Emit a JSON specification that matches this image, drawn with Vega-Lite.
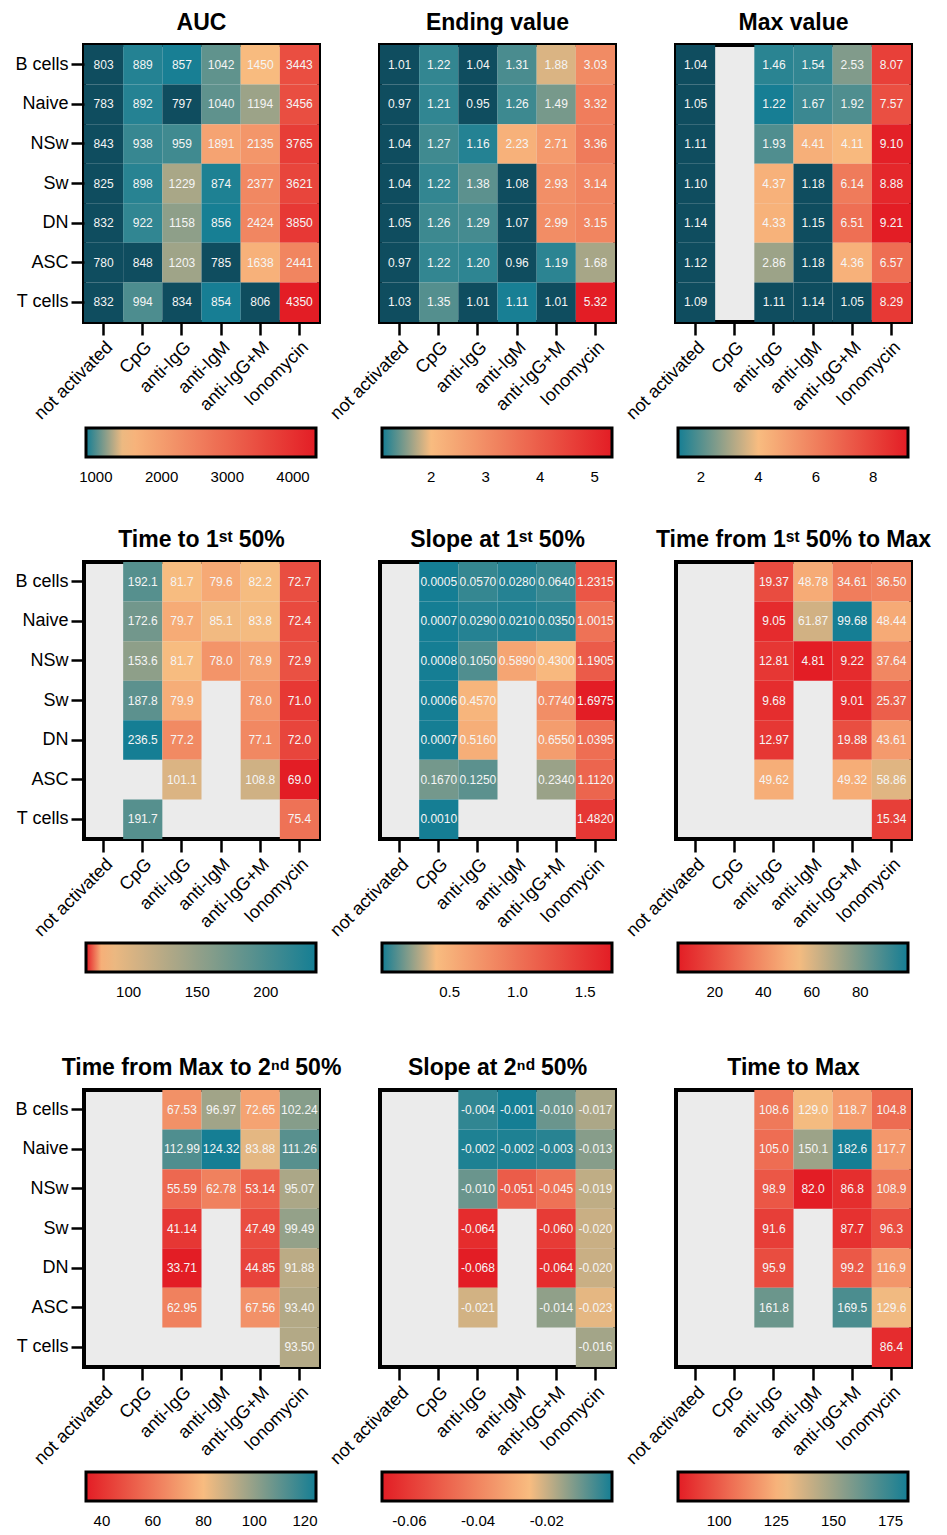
{
"$schema": "https://vega.github.io/schema/vega-lite/v6.json",
"padding": {"left": 12, "top": 10, "right": 5, "bottom": 5},
"datasets": {
"auc": [
{"r":"B cells","c":"not activated","v":803},{"r":"B cells","c":"CpG","v":889},{"r":"B cells","c":"anti-IgG","v":857},{"r":"B cells","c":"anti-IgM","v":1042},{"r":"B cells","c":"anti-IgG+M","v":1450},{"r":"B cells","c":"Ionomycin","v":3443},
{"r":"Naive","c":"not activated","v":783},{"r":"Naive","c":"CpG","v":892},{"r":"Naive","c":"anti-IgG","v":797},{"r":"Naive","c":"anti-IgM","v":1040},{"r":"Naive","c":"anti-IgG+M","v":1194},{"r":"Naive","c":"Ionomycin","v":3456},
{"r":"NSw","c":"not activated","v":843},{"r":"NSw","c":"CpG","v":938},{"r":"NSw","c":"anti-IgG","v":959},{"r":"NSw","c":"anti-IgM","v":1891},{"r":"NSw","c":"anti-IgG+M","v":2135},{"r":"NSw","c":"Ionomycin","v":3765},
{"r":"Sw","c":"not activated","v":825},{"r":"Sw","c":"CpG","v":898},{"r":"Sw","c":"anti-IgG","v":1229},{"r":"Sw","c":"anti-IgM","v":874},{"r":"Sw","c":"anti-IgG+M","v":2377},{"r":"Sw","c":"Ionomycin","v":3621},
{"r":"DN","c":"not activated","v":832},{"r":"DN","c":"CpG","v":922},{"r":"DN","c":"anti-IgG","v":1158},{"r":"DN","c":"anti-IgM","v":856},{"r":"DN","c":"anti-IgG+M","v":2424},{"r":"DN","c":"Ionomycin","v":3850},
{"r":"ASC","c":"not activated","v":780},{"r":"ASC","c":"CpG","v":848},{"r":"ASC","c":"anti-IgG","v":1203},{"r":"ASC","c":"anti-IgM","v":785},{"r":"ASC","c":"anti-IgG+M","v":1638},{"r":"ASC","c":"Ionomycin","v":2441},
{"r":"T cells","c":"not activated","v":832},{"r":"T cells","c":"CpG","v":994},{"r":"T cells","c":"anti-IgG","v":834},{"r":"T cells","c":"anti-IgM","v":854},{"r":"T cells","c":"anti-IgG+M","v":806},{"r":"T cells","c":"Ionomycin","v":4350}
],
"endv": [
{"r":"B cells","c":"not activated","v":1.01},{"r":"B cells","c":"CpG","v":1.22},{"r":"B cells","c":"anti-IgG","v":1.04},{"r":"B cells","c":"anti-IgM","v":1.31},{"r":"B cells","c":"anti-IgG+M","v":1.88},{"r":"B cells","c":"Ionomycin","v":3.03},
{"r":"Naive","c":"not activated","v":0.97},{"r":"Naive","c":"CpG","v":1.21},{"r":"Naive","c":"anti-IgG","v":0.95},{"r":"Naive","c":"anti-IgM","v":1.26},{"r":"Naive","c":"anti-IgG+M","v":1.49},{"r":"Naive","c":"Ionomycin","v":3.32},
{"r":"NSw","c":"not activated","v":1.04},{"r":"NSw","c":"CpG","v":1.27},{"r":"NSw","c":"anti-IgG","v":1.16},{"r":"NSw","c":"anti-IgM","v":2.23},{"r":"NSw","c":"anti-IgG+M","v":2.71},{"r":"NSw","c":"Ionomycin","v":3.36},
{"r":"Sw","c":"not activated","v":1.04},{"r":"Sw","c":"CpG","v":1.22},{"r":"Sw","c":"anti-IgG","v":1.38},{"r":"Sw","c":"anti-IgM","v":1.08},{"r":"Sw","c":"anti-IgG+M","v":2.93},{"r":"Sw","c":"Ionomycin","v":3.14},
{"r":"DN","c":"not activated","v":1.05},{"r":"DN","c":"CpG","v":1.26},{"r":"DN","c":"anti-IgG","v":1.29},{"r":"DN","c":"anti-IgM","v":1.07},{"r":"DN","c":"anti-IgG+M","v":2.99},{"r":"DN","c":"Ionomycin","v":3.15},
{"r":"ASC","c":"not activated","v":0.97},{"r":"ASC","c":"CpG","v":1.22},{"r":"ASC","c":"anti-IgG","v":1.20},{"r":"ASC","c":"anti-IgM","v":0.96},{"r":"ASC","c":"anti-IgG+M","v":1.19},{"r":"ASC","c":"Ionomycin","v":1.68},
{"r":"T cells","c":"not activated","v":1.03},{"r":"T cells","c":"CpG","v":1.35},{"r":"T cells","c":"anti-IgG","v":1.01},{"r":"T cells","c":"anti-IgM","v":1.11},{"r":"T cells","c":"anti-IgG+M","v":1.01},{"r":"T cells","c":"Ionomycin","v":5.32}
],
"maxv": [
{"r":"B cells","c":"not activated","v":1.04},{"r":"B cells","c":"anti-IgG","v":1.46},{"r":"B cells","c":"anti-IgM","v":1.54},{"r":"B cells","c":"anti-IgG+M","v":2.53},{"r":"B cells","c":"Ionomycin","v":8.07},
{"r":"Naive","c":"not activated","v":1.05},{"r":"Naive","c":"anti-IgG","v":1.22},{"r":"Naive","c":"anti-IgM","v":1.67},{"r":"Naive","c":"anti-IgG+M","v":1.92},{"r":"Naive","c":"Ionomycin","v":7.57},
{"r":"NSw","c":"not activated","v":1.11},{"r":"NSw","c":"anti-IgG","v":1.93},{"r":"NSw","c":"anti-IgM","v":4.41},{"r":"NSw","c":"anti-IgG+M","v":4.11},{"r":"NSw","c":"Ionomycin","v":9.10},
{"r":"Sw","c":"not activated","v":1.10},{"r":"Sw","c":"anti-IgG","v":4.37},{"r":"Sw","c":"anti-IgM","v":1.18},{"r":"Sw","c":"anti-IgG+M","v":6.14},{"r":"Sw","c":"Ionomycin","v":8.88},
{"r":"DN","c":"not activated","v":1.14},{"r":"DN","c":"anti-IgG","v":4.33},{"r":"DN","c":"anti-IgM","v":1.15},{"r":"DN","c":"anti-IgG+M","v":6.51},{"r":"DN","c":"Ionomycin","v":9.21},
{"r":"ASC","c":"not activated","v":1.12},{"r":"ASC","c":"anti-IgG","v":2.86},{"r":"ASC","c":"anti-IgM","v":1.18},{"r":"ASC","c":"anti-IgG+M","v":4.36},{"r":"ASC","c":"Ionomycin","v":6.57},
{"r":"T cells","c":"not activated","v":1.09},{"r":"T cells","c":"anti-IgG","v":1.11},{"r":"T cells","c":"anti-IgM","v":1.14},{"r":"T cells","c":"anti-IgG+M","v":1.05},{"r":"T cells","c":"Ionomycin","v":8.29}
],
"t1": [
{"r":"B cells","c":"CpG","v":192.1},{"r":"B cells","c":"anti-IgG","v":81.7},{"r":"B cells","c":"anti-IgM","v":79.6},{"r":"B cells","c":"anti-IgG+M","v":82.2},{"r":"B cells","c":"Ionomycin","v":72.7},
{"r":"Naive","c":"CpG","v":172.6},{"r":"Naive","c":"anti-IgG","v":79.7},{"r":"Naive","c":"anti-IgM","v":85.1},{"r":"Naive","c":"anti-IgG+M","v":83.8},{"r":"Naive","c":"Ionomycin","v":72.4},
{"r":"NSw","c":"CpG","v":153.6},{"r":"NSw","c":"anti-IgG","v":81.7},{"r":"NSw","c":"anti-IgM","v":78.0},{"r":"NSw","c":"anti-IgG+M","v":78.9},{"r":"NSw","c":"Ionomycin","v":72.9},
{"r":"Sw","c":"CpG","v":187.8},{"r":"Sw","c":"anti-IgG","v":79.9},{"r":"Sw","c":"anti-IgG+M","v":78.0},{"r":"Sw","c":"Ionomycin","v":71.0},
{"r":"DN","c":"CpG","v":236.5},{"r":"DN","c":"anti-IgG","v":77.2},{"r":"DN","c":"anti-IgG+M","v":77.1},{"r":"DN","c":"Ionomycin","v":72.0},
{"r":"ASC","c":"anti-IgG","v":101.1},{"r":"ASC","c":"anti-IgG+M","v":108.8},{"r":"ASC","c":"Ionomycin","v":69.0},
{"r":"T cells","c":"CpG","v":191.7},{"r":"T cells","c":"Ionomycin","v":75.4}
],
"s1": [
{"r":"B cells","c":"CpG","v":0.0005},{"r":"B cells","c":"anti-IgG","v":0.0570},{"r":"B cells","c":"anti-IgM","v":0.0280},{"r":"B cells","c":"anti-IgG+M","v":0.0640},{"r":"B cells","c":"Ionomycin","v":1.2315},
{"r":"Naive","c":"CpG","v":0.0007},{"r":"Naive","c":"anti-IgG","v":0.0290},{"r":"Naive","c":"anti-IgM","v":0.0210},{"r":"Naive","c":"anti-IgG+M","v":0.0350},{"r":"Naive","c":"Ionomycin","v":1.0015},
{"r":"NSw","c":"CpG","v":0.0008},{"r":"NSw","c":"anti-IgG","v":0.1050},{"r":"NSw","c":"anti-IgM","v":0.5890},{"r":"NSw","c":"anti-IgG+M","v":0.4300},{"r":"NSw","c":"Ionomycin","v":1.1905},
{"r":"Sw","c":"CpG","v":0.0006},{"r":"Sw","c":"anti-IgG","v":0.4570},{"r":"Sw","c":"anti-IgG+M","v":0.7740},{"r":"Sw","c":"Ionomycin","v":1.6975},
{"r":"DN","c":"CpG","v":0.0007},{"r":"DN","c":"anti-IgG","v":0.5160},{"r":"DN","c":"anti-IgG+M","v":0.6550},{"r":"DN","c":"Ionomycin","v":1.0395},
{"r":"ASC","c":"CpG","v":0.1670},{"r":"ASC","c":"anti-IgG","v":0.1250},{"r":"ASC","c":"anti-IgG+M","v":0.2340},{"r":"ASC","c":"Ionomycin","v":1.1120},
{"r":"T cells","c":"CpG","v":0.0010},{"r":"T cells","c":"Ionomycin","v":1.4820}
],
"t1m": [
{"r":"B cells","c":"anti-IgG","v":19.37},{"r":"B cells","c":"anti-IgM","v":48.78},{"r":"B cells","c":"anti-IgG+M","v":34.61},{"r":"B cells","c":"Ionomycin","v":36.50},
{"r":"Naive","c":"anti-IgG","v":9.05},{"r":"Naive","c":"anti-IgM","v":61.87},{"r":"Naive","c":"anti-IgG+M","v":99.68},{"r":"Naive","c":"Ionomycin","v":48.44},
{"r":"NSw","c":"anti-IgG","v":12.81},{"r":"NSw","c":"anti-IgM","v":4.81},{"r":"NSw","c":"anti-IgG+M","v":9.22},{"r":"NSw","c":"Ionomycin","v":37.64},
{"r":"Sw","c":"anti-IgG","v":9.68},{"r":"Sw","c":"anti-IgG+M","v":9.01},{"r":"Sw","c":"Ionomycin","v":25.37},
{"r":"DN","c":"anti-IgG","v":12.97},{"r":"DN","c":"anti-IgG+M","v":19.88},{"r":"DN","c":"Ionomycin","v":43.61},
{"r":"ASC","c":"anti-IgG","v":49.62},{"r":"ASC","c":"anti-IgG+M","v":49.32},{"r":"ASC","c":"Ionomycin","v":58.86},
{"r":"T cells","c":"Ionomycin","v":15.34}
],
"tm2": [
{"r":"B cells","c":"anti-IgG","v":67.53},{"r":"B cells","c":"anti-IgM","v":96.97},{"r":"B cells","c":"anti-IgG+M","v":72.65},{"r":"B cells","c":"Ionomycin","v":102.24},
{"r":"Naive","c":"anti-IgG","v":112.99},{"r":"Naive","c":"anti-IgM","v":124.32},{"r":"Naive","c":"anti-IgG+M","v":83.88},{"r":"Naive","c":"Ionomycin","v":111.26},
{"r":"NSw","c":"anti-IgG","v":55.59},{"r":"NSw","c":"anti-IgM","v":62.78},{"r":"NSw","c":"anti-IgG+M","v":53.14},{"r":"NSw","c":"Ionomycin","v":95.07},
{"r":"Sw","c":"anti-IgG","v":41.14},{"r":"Sw","c":"anti-IgG+M","v":47.49},{"r":"Sw","c":"Ionomycin","v":99.49},
{"r":"DN","c":"anti-IgG","v":33.71},{"r":"DN","c":"anti-IgG+M","v":44.85},{"r":"DN","c":"Ionomycin","v":91.88},
{"r":"ASC","c":"anti-IgG","v":62.95},{"r":"ASC","c":"anti-IgG+M","v":67.56},{"r":"ASC","c":"Ionomycin","v":93.40},
{"r":"T cells","c":"Ionomycin","v":93.50}
],
"s2": [
{"r":"B cells","c":"anti-IgG","v":-0.004},{"r":"B cells","c":"anti-IgM","v":-0.001},{"r":"B cells","c":"anti-IgG+M","v":-0.010},{"r":"B cells","c":"Ionomycin","v":-0.017},
{"r":"Naive","c":"anti-IgG","v":-0.002},{"r":"Naive","c":"anti-IgM","v":-0.002},{"r":"Naive","c":"anti-IgG+M","v":-0.003},{"r":"Naive","c":"Ionomycin","v":-0.013},
{"r":"NSw","c":"anti-IgG","v":-0.010},{"r":"NSw","c":"anti-IgM","v":-0.051},{"r":"NSw","c":"anti-IgG+M","v":-0.045},{"r":"NSw","c":"Ionomycin","v":-0.019},
{"r":"Sw","c":"anti-IgG","v":-0.064},{"r":"Sw","c":"anti-IgG+M","v":-0.060},{"r":"Sw","c":"Ionomycin","v":-0.020},
{"r":"DN","c":"anti-IgG","v":-0.068},{"r":"DN","c":"anti-IgG+M","v":-0.064},{"r":"DN","c":"Ionomycin","v":-0.020},
{"r":"ASC","c":"anti-IgG","v":-0.021},{"r":"ASC","c":"anti-IgG+M","v":-0.014},{"r":"ASC","c":"Ionomycin","v":-0.023},
{"r":"T cells","c":"Ionomycin","v":-0.016}
],
"tmax": [
{"r":"B cells","c":"anti-IgG","v":108.6},{"r":"B cells","c":"anti-IgM","v":129.0},{"r":"B cells","c":"anti-IgG+M","v":118.7},{"r":"B cells","c":"Ionomycin","v":104.8},
{"r":"Naive","c":"anti-IgG","v":105.0},{"r":"Naive","c":"anti-IgM","v":150.1},{"r":"Naive","c":"anti-IgG+M","v":182.6},{"r":"Naive","c":"Ionomycin","v":117.7},
{"r":"NSw","c":"anti-IgG","v":98.9},{"r":"NSw","c":"anti-IgM","v":82.0},{"r":"NSw","c":"anti-IgG+M","v":86.8},{"r":"NSw","c":"Ionomycin","v":108.9},
{"r":"Sw","c":"anti-IgG","v":91.6},{"r":"Sw","c":"anti-IgG+M","v":87.7},{"r":"Sw","c":"Ionomycin","v":96.3},
{"r":"DN","c":"anti-IgG","v":95.9},{"r":"DN","c":"anti-IgG+M","v":99.2},{"r":"DN","c":"Ionomycin","v":116.9},
{"r":"ASC","c":"anti-IgG","v":161.8},{"r":"ASC","c":"anti-IgG+M","v":169.5},{"r":"ASC","c":"Ionomycin","v":129.6},
{"r":"T cells","c":"Ionomycin","v":86.4}
]
},
"spacing": 517,
"bounds": "flush",
"resolve": {"scale": {"color": "independent"}, "legend": {"color": "independent"}},
"vconcat": [
{"hconcat": [
{"width": 235, "height": 277, "data": {"name": "auc"}, "title": "AUC",
 "encoding": {"x": {"field": "c", "type": "nominal", "scale": {"domain": ["not activated","CpG","anti-IgG","anti-IgM","anti-IgG+M","Ionomycin"]}},
   "y": {"field": "r", "type": "nominal", "scale": {"domain": ["B cells","Naive","NSw","Sw","DN","ASC","T cells"]}}},
 "layer": [
  {"mark": "rect", "encoding": {"color": {"condition": {"test": "datum.v < 850", "value": "#0f4d5f"}, "field": "v", "type": "quantitative",
     "scale": {"domain": [850, 1430, 4350], "range": ["#157e94", "#f8bc80", "#e31d25"], "interpolate": "rgb", "clamp": true},
     "legend": {"title": null, "values": [1000, 2000, 3000, 4000], "format": "d", "legendX": 2, "legendY": 383, "labelOffset": 13}}}},
  {"mark": {"type": "text", "font": "Liberation Sans", "fontSize": 12, "color": "#f5f5f5"}, "encoding": {"text": {"field": "v", "type": "quantitative", "format": "d"}}}
 ]},
{"width": 235, "height": 277, "data": {"name": "endv"}, "title": "Ending value",
 "encoding": {"x": {"field": "c", "type": "nominal", "scale": {"domain": ["not activated","CpG","anti-IgG","anti-IgM","anti-IgG+M","Ionomycin"]}},
   "y": {"field": "r", "type": "nominal", "scale": {"domain": ["B cells","Naive","NSw","Sw","DN","ASC","T cells"]}, "axis": null}},
 "layer": [
  {"mark": "rect", "encoding": {"color": {"condition": {"test": "datum.v < 1.1", "value": "#0f4d5f"}, "field": "v", "type": "quantitative",
     "scale": {"domain": [1.1, 2.0, 5.32], "range": ["#157e94", "#f8bc80", "#e31d25"], "interpolate": "rgb", "clamp": true},
     "legend": {"title": null, "values": [2, 3, 4, 5], "format": "d", "legendX": 2, "legendY": 383, "labelOffset": 13}}}},
  {"mark": {"type": "text", "font": "Liberation Sans", "fontSize": 12, "color": "#f5f5f5"}, "encoding": {"text": {"field": "v", "type": "quantitative", "format": ".2f"}}}
 ]},
{"width": 235, "height": 277, "data": {"name": "maxv"}, "title": "Max value",
 "encoding": {"x": {"field": "c", "type": "nominal", "scale": {"domain": ["not activated","CpG","anti-IgG","anti-IgM","anti-IgG+M","Ionomycin"]}},
   "y": {"field": "r", "type": "nominal", "scale": {"domain": ["B cells","Naive","NSw","Sw","DN","ASC","T cells"]}, "axis": null}},
 "layer": [
  {"mark": "rect", "encoding": {"color": {"condition": {"test": "datum.v < 1.2", "value": "#0f4d5f"}, "field": "v", "type": "quantitative",
     "scale": {"domain": [1.2, 4.0, 9.21], "range": ["#157e94", "#f8bc80", "#e31d25"], "interpolate": "rgb", "clamp": true},
     "legend": {"title": null, "values": [2, 4, 6, 8], "format": "d", "legendX": 2, "legendY": 383, "labelOffset": 13}}}},
  {"mark": {"type": "text", "font": "Liberation Sans", "fontSize": 12, "color": "#f5f5f5"}, "encoding": {"text": {"field": "v", "type": "quantitative", "format": ".2f"}}}
 ]}
], "spacing": 61, "bounds": "flush", "resolve": {"scale": {"color": "independent"}, "legend": {"color": "independent"}}},
{"vconcat": [
{"hconcat": [
{"width": 235, "height": 277, "data": {"name": "t1"}, "title": "Time to 1ˢᵗ 50%",
 "encoding": {"x": {"field": "c", "type": "nominal", "scale": {"domain": ["not activated","CpG","anti-IgG","anti-IgM","anti-IgG+M","Ionomycin"]}},
   "y": {"field": "r", "type": "nominal", "scale": {"domain": ["B cells","Naive","NSw","Sw","DN","ASC","T cells"]}}},
 "layer": [
  {"mark": "rect", "encoding": {"color": {"field": "v", "type": "quantitative",
     "scale": {"domain": [69.0, 81, 236.5], "range": ["#e31d25", "#f8bc80", "#157e94"], "interpolate": "rgb", "clamp": true},
     "legend": {"title": null, "values": [100, 150, 200], "format": "d", "legendX": 2, "legendY": 381, "labelOffset": 13}}}},
  {"mark": {"type": "text", "font": "Liberation Sans", "fontSize": 12, "color": "#f5f5f5"}, "encoding": {"text": {"field": "v", "type": "quantitative", "format": ".1f"}}}
 ]},
{"width": 235, "height": 277, "data": {"name": "s1"}, "title": "Slope at 1ˢᵗ 50%",
 "encoding": {"x": {"field": "c", "type": "nominal", "scale": {"domain": ["not activated","CpG","anti-IgG","anti-IgM","anti-IgG+M","Ionomycin"]}},
   "y": {"field": "r", "type": "nominal", "scale": {"domain": ["B cells","Naive","NSw","Sw","DN","ASC","T cells"]}, "axis": null}},
 "layer": [
  {"mark": "rect", "encoding": {"color": {"field": "v", "type": "quantitative",
     "scale": {"domain": [0.0005, 0.4, 1.6975], "range": ["#157e94", "#f8bc80", "#e31d25"], "interpolate": "rgb", "clamp": true},
     "legend": {"title": null, "values": [0.5, 1.0, 1.5], "format": ".1f", "legendX": 2, "legendY": 381, "labelOffset": 13}}}},
  {"mark": {"type": "text", "font": "Liberation Sans", "fontSize": 12, "color": "#f5f5f5"}, "encoding": {"text": {"field": "v", "type": "quantitative", "format": ".4f"}}}
 ]},
{"width": 235, "height": 277, "data": {"name": "t1m"}, "title": "Time from 1ˢᵗ 50% to Max",
 "encoding": {"x": {"field": "c", "type": "nominal", "scale": {"domain": ["not activated","CpG","anti-IgG","anti-IgM","anti-IgG+M","Ionomycin"]}},
   "y": {"field": "r", "type": "nominal", "scale": {"domain": ["B cells","Naive","NSw","Sw","DN","ASC","T cells"]}, "axis": null}},
 "layer": [
  {"mark": "rect", "encoding": {"color": {"field": "v", "type": "quantitative",
     "scale": {"domain": [4.81, 54, 99.68], "range": ["#e31d25", "#f8bc80", "#157e94"], "interpolate": "rgb", "clamp": true},
     "legend": {"title": null, "values": [20, 40, 60, 80], "format": "d", "legendX": 2, "legendY": 381, "labelOffset": 13}}}},
  {"mark": {"type": "text", "font": "Liberation Sans", "fontSize": 12, "color": "#f5f5f5"}, "encoding": {"text": {"field": "v", "type": "quantitative", "format": ".2f"}}}
 ]}
], "spacing": 61, "bounds": "flush", "resolve": {"scale": {"color": "independent"}, "legend": {"color": "independent"}}},
{"hconcat": [
{"width": 235, "height": 277, "data": {"name": "tm2"}, "title": "Time from Max to 2ⁿᵈ 50%",
 "encoding": {"x": {"field": "c", "type": "nominal", "scale": {"domain": ["not activated","CpG","anti-IgG","anti-IgM","anti-IgG+M","Ionomycin"]}},
   "y": {"field": "r", "type": "nominal", "scale": {"domain": ["B cells","Naive","NSw","Sw","DN","ASC","T cells"]}}},
 "layer": [
  {"mark": "rect", "encoding": {"color": {"field": "v", "type": "quantitative",
     "scale": {"domain": [33.71, 80, 124.32], "range": ["#e31d25", "#f8bc80", "#157e94"], "interpolate": "rgb", "clamp": true},
     "legend": {"title": null, "values": [40, 60, 80, 100, 120], "format": "d", "legendX": 2, "legendY": 382, "labelOffset": 13}}}},
  {"mark": {"type": "text", "font": "Liberation Sans", "fontSize": 12, "color": "#f5f5f5"}, "encoding": {"text": {"field": "v", "type": "quantitative", "format": ".2f"}}}
 ]},
{"width": 235, "height": 277, "data": {"name": "s2"}, "title": "Slope at 2ⁿᵈ 50%",
 "encoding": {"x": {"field": "c", "type": "nominal", "scale": {"domain": ["not activated","CpG","anti-IgG","anti-IgM","anti-IgG+M","Ionomycin"]}},
   "y": {"field": "r", "type": "nominal", "scale": {"domain": ["B cells","Naive","NSw","Sw","DN","ASC","T cells"]}, "axis": null}},
 "layer": [
  {"mark": "rect", "encoding": {"color": {"field": "v", "type": "quantitative",
     "scale": {"domain": [-0.068, -0.025, -0.001], "range": ["#e31d25", "#f8bc80", "#157e94"], "interpolate": "rgb", "clamp": true},
     "legend": {"title": null, "values": [-0.06, -0.04, -0.02], "format": ".2f", "legendX": 2, "legendY": 382, "labelOffset": 13}}}},
  {"mark": {"type": "text", "font": "Liberation Sans", "fontSize": 12, "color": "#f5f5f5"}, "encoding": {"text": {"field": "v", "type": "quantitative", "format": ".3f"}}}
 ]},
{"width": 235, "height": 277, "data": {"name": "tmax"}, "title": "Time to Max",
 "encoding": {"x": {"field": "c", "type": "nominal", "scale": {"domain": ["not activated","CpG","anti-IgG","anti-IgM","anti-IgG+M","Ionomycin"]}},
   "y": {"field": "r", "type": "nominal", "scale": {"domain": ["B cells","Naive","NSw","Sw","DN","ASC","T cells"]}, "axis": null}},
 "layer": [
  {"mark": "rect", "encoding": {"color": {"field": "v", "type": "quantitative",
     "scale": {"domain": [82.0, 128, 182.6], "range": ["#e31d25", "#f8bc80", "#157e94"], "interpolate": "rgb", "clamp": true},
     "legend": {"title": null, "values": [100, 125, 150, 175], "format": "d", "legendX": 2, "legendY": 382, "labelOffset": 13}}}},
  {"mark": {"type": "text", "font": "Liberation Sans", "fontSize": 12, "color": "#f5f5f5"}, "encoding": {"text": {"field": "v", "type": "quantitative", "format": ".1f"}}}
 ]}
], "spacing": 61, "bounds": "flush", "resolve": {"scale": {"color": "independent"}, "legend": {"color": "independent"}}}
], "spacing": 528, "bounds": "flush", "resolve": {"scale": {"color": "independent"}, "legend": {"color": "independent"}}}
],
"config": {
 "font": "Liberation Sans",
 "locale": {"number": {"decimal": ".", "thousands": ",", "grouping": [3], "currency": ["$", ""], "minus": "-"}},
 "view": {"fill": "#ebebeb", "stroke": "black", "strokeWidth": 4},
 "axis": {"title": null, "domain": false, "grid": false, "labelFont": "Liberation Sans", "labelFontSize": 18, "labelColor": "black", "tickColor": "black", "tickWidth": 2.5, "tickSize": 13, "labelPadding": 3},
 "axisX": {"labelAngle": -45},
 "title": {"font": "Liberation Sans", "fontSize": 23, "fontWeight": "bold", "color": "black", "offset": 10, "anchor": "middle"},
 "legend": {"orient": "none", "direction": "horizontal", "gradientLength": 230, "gradientThickness": 29, "gradientStrokeColor": "black", "gradientStrokeWidth": 3, "labelFont": "Liberation Sans", "labelFontSize": 15, "labelColor": "black", "labelOffset": 13, "labelOverlap": false}
}
}
